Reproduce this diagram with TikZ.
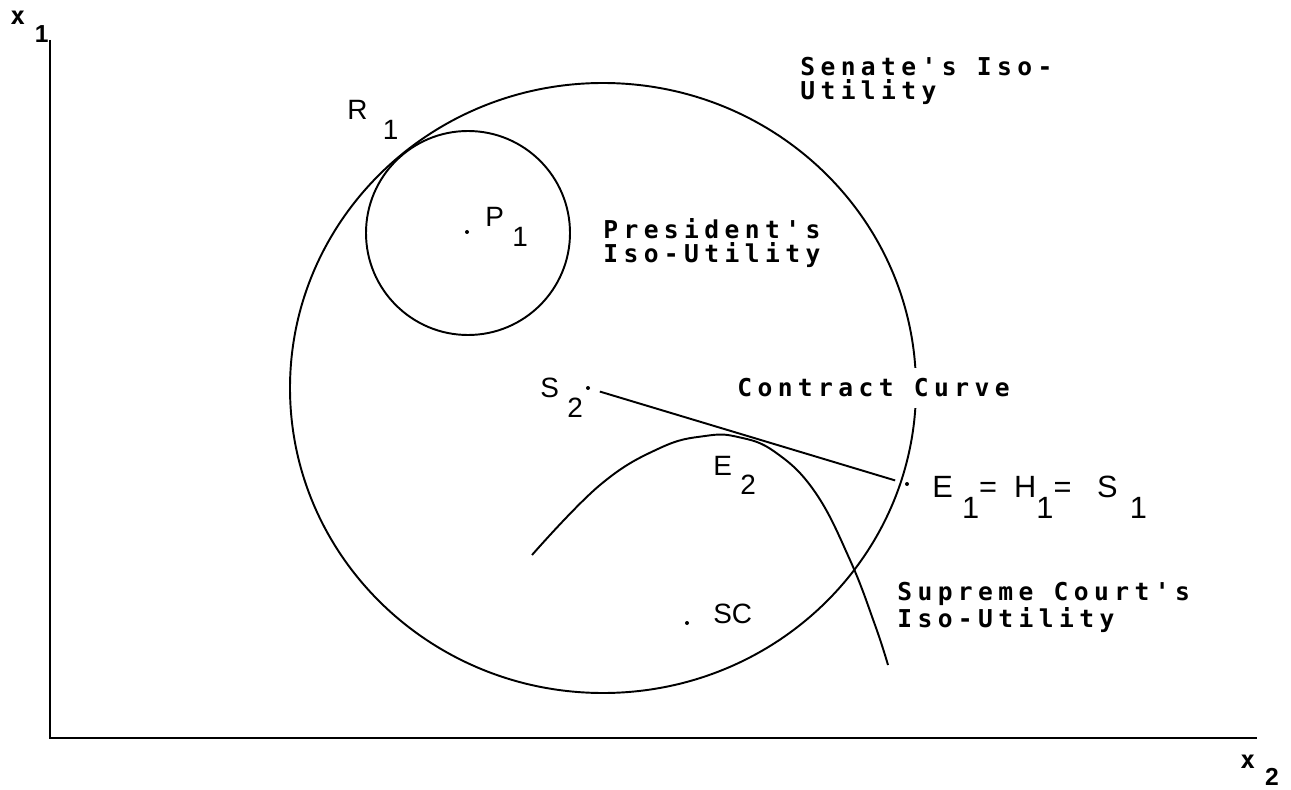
\documentclass[tikz,border=0pt]{standalone}
\usepackage{fontspec}
\setmainfont{Liberation Sans}
\newfontfamily\isofont{DejaVu Sans Mono}[LetterSpace=22]
\usetikzlibrary{positioning}

% letter with a lowered index
\newcommand\lab[3][.3em]{#2\kern#1\raisebox{-.7em}{#3}}

\begin{document}
\begin{tikzpicture}[x=0.02cm, y=-0.02cm,
    curve/.style={line width=1.1pt},
    iso/.style={font=\isofont\bfseries\fontsize{14}{14.2}\selectfont, align=left, anchor=base west, inner sep=0pt},
    pt/.style={font=\fontsize{15.9}{18}\selectfont, anchor=base west, inner sep=0pt},
    axis/.style={font=\fontsize{14}{16}\selectfont, anchor=base west, inner sep=0pt},
    dot/.style={circle, fill, inner sep=0pt, minimum size=0.08cm}
]
\useasboundingbox (0,0) rectangle (1291,790);

% axes
\coordinate (top) at (50,40);
\coordinate (origin) at (50,738);
\coordinate (right) at (1257,738);
\draw[curve] (top) -- (origin) -- (right);
\node[axis] (xone) at (10,25) {\lab[.4em]{{\isofont\bfseries x}}{\textbf{1}}};
\node[axis] (xtwo) at (1240,768) {\lab[.4em]{{\isofont\bfseries x}}{\textbf{2}}};

% iso-utility curves
\draw[curve] (603,388) ellipse [x radius=313, y radius=305];
\draw[curve] (468,233) circle [radius=102];
\draw[curve] plot[smooth, tension=0.7] coordinates {(532,555) (600,485) (660,448) (705,436) (738,437) (775,452) (815,492) (850,560) (875,625) (888,665)};

% ideal points
\node[dot] (p1) at (467,232) {};
\node[dot] (s2) at (588,388) {};
\node[dot] (e1) at (907,484) {};
\node[dot] (sc) at (687,623) {};

% contract curve
\draw[curve, shorten <=0.2cm, shorten >=0.2cm] (s2) -- (e1);

% labels
\node[pt] (r1) at (347,120) {\lab[.55em]{R}{1}};
\node[pt] (p1lab) at (485,227) {\lab{P}{1}};
\node[pt] (s2lab) at (540,398) {\lab{S}{2}};
\node[pt] (e2lab) at (713,475) {\lab{E}{2}};
\node[pt] (sclab) at (713,623) {SC};
\node[pt, font=\fontsize{17.5}{20}\selectfont] (e1lab) at (932,497)
    {\lab{E}{1}=\ \ H\raisebox{-.7em}{1}=\ \ \ \lab[.4em]{S}{1}};

\node[iso] (senate) at (800,100) {Senate's Iso-\\Utility};
\node[iso] (president) at (603,263) {President's\\Iso-Utility};
\node[iso, fill=white, inner ysep=6pt] (contract) at (737,397) {Contract Curve};
\node[iso] (court) at (897,627) {Supreme Court's\\Iso-Utility};
\end{tikzpicture}
\end{document}
